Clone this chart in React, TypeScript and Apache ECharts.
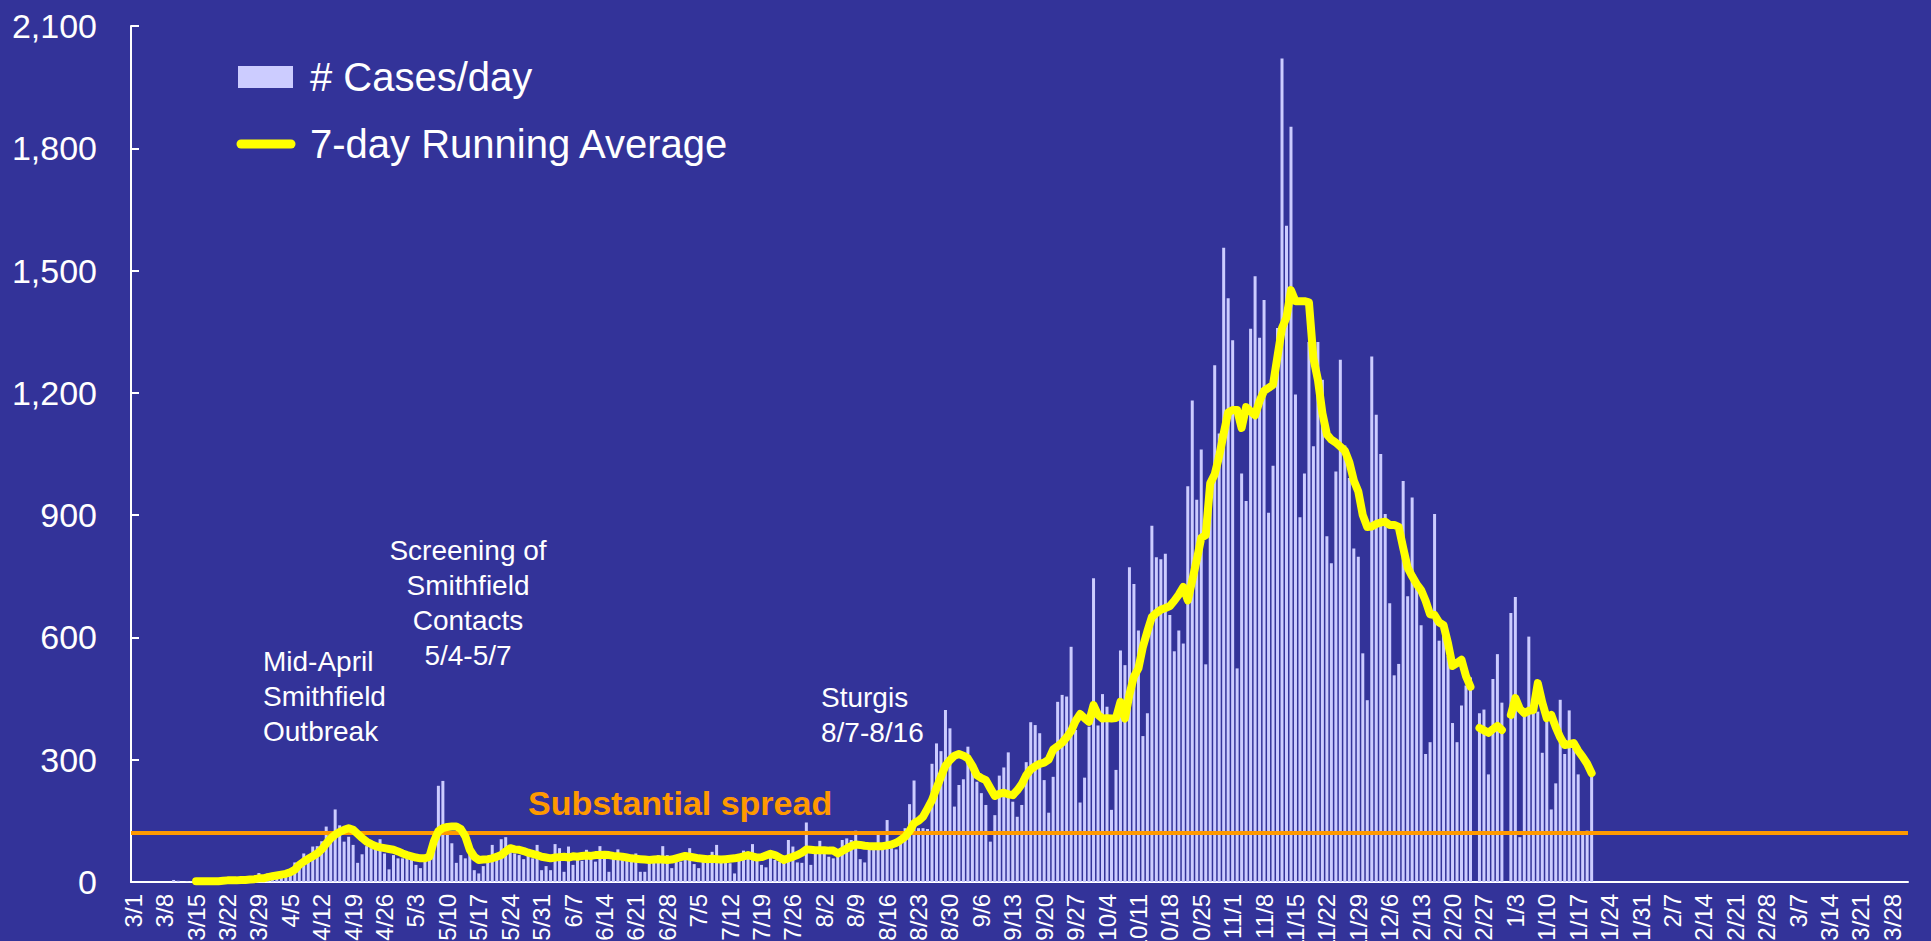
import React, { useEffect, useRef } from "react";
import * as echarts from "echarts";

// ---- Data (daily new cases) ----
// Axis runs 3/1/2020 .. 3/31/2021 (396 days)
const AXIS_START_UTC = Date.UTC(2020, 2, 1);
const AXIS_DAYS = 396;
const CASES_START_INDEX = 9; // 3/10/2020
const AVG_START_INDEX = 14; // 3/15/2020

const casesMar = [5, 3, 0, 1, 1, 2, 1, 1, 3, 3, 3, 7, 7, 2, 5, 5, 5, 12, 12, 22, 7, 21];
const casesApr = [21, 17, 22, 25, 28, 48, 32, 70, 60, 87, 88, 100, 136, 111, 178, 139, 99, 111, 91, 47, 68, 88, 83, 89, 105, 70, 31, 66, 58, 58];
const casesMay = [66, 58, 42, 34, 66, 54, 123, 236, 248, 119, 95, 47, 66, 58, 83, 29, 21, 39, 50, 91, 62, 105, 110, 87, 70, 66, 56, 64, 58, 91, 29];
const casesJun = [39, 29, 93, 83, 25, 87, 42, 70, 52, 79, 66, 50, 88, 66, 25, 70, 80, 54, 62, 58, 70, 25, 25, 58, 54, 66, 88, 66, 34, 54];
const casesJul = [50, 58, 83, 44, 34, 58, 50, 74, 91, 58, 54, 46, 21, 58, 77, 58, 93, 60, 42, 36, 70, 54, 50, 47, 103, 87, 48, 47, 146, 42, 70];
const casesAug = [101, 70, 62, 58, 70, 103, 107, 103, 126, 56, 48, 80, 83, 125, 87, 152, 83, 80, 103, 132, 191, 249, 132, 132, 130, 290, 340, 321, 422, 377, 185];
const casesSep = [238, 252, 332, 279, 246, 218, 189, 99, 164, 261, 281, 318, 197, 160, 189, 294, 392, 385, 365, 250, 170, 258, 442, 459, 455, 577, 373, 195, 256, 381];
const casesOct = [745, 384, 461, 430, 177, 275, 568, 532, 772, 731, 617, 358, 414, 874, 797, 792, 805, 655, 566, 617, 585, 971, 1181, 938, 1061, 534, 987, 1268, 1100, 1556, 1432];
const casesNov = [1329, 524, 1002, 935, 1357, 1486, 1335, 1428, 906, 1021, 1359, 2020, 1610, 1853, 1196, 895, 1002, 1325, 1069, 1325, 1232, 848, 782, 1007, 1281, 1071, 991, 818, 798, 561];
const casesDec = [446, 1289, 1146, 1050, 903, 684, 507, 535, 984, 701, 943, 721, 630, 314, 343, 903, 592, 620, 554, 390, 343, 433, 482, 502, null, 414, 423, 264, 498, 559, 440];
const casesJan = [null, 660, 699, 110, 414, 602, 418, 418, 317, 393, 178, 242, 447, 314, 421, 328, 264, 120, 126, 260];

const avgMar = [2, 2, 2, 2, 2, 2, 3, 4, 4, 4, 5, 5, 6, 7, 9, 9, 12];
const avgApr = [14, 16, 18, 20, 24, 30, 42, 50, 57, 63, 70, 80, 94, 107, 116, 123, 128, 132, 128, 118, 108, 99, 93, 88, 85, 83, 81, 79, 75, 70];
const avgMay = [66, 63, 60, 58, 58, 62, 100, 125, 132, 135, 136, 136, 130, 112, 79, 62, 54, 55, 56, 58, 62, 66, 75, 83, 80, 79, 76, 72, 69, 66, 62];
const avgJun = [60, 58, 60, 61, 62, 60, 63, 62, 64, 65, 64, 66, 66, 67, 66, 64, 63, 62, 60, 58, 57, 56, 55, 54, 55, 56, 55, 54, 55, 58];
const avgJul = [61, 64, 62, 60, 58, 57, 56, 57, 56, 55, 56, 57, 58, 60, 63, 66, 63, 60, 61, 65, 69, 66, 60, 54, 58, 62, 66, 72, 80, 79, 78];
const avgAug = [78, 78, 77, 77, 70, 76, 82, 88, 92, 91, 89, 88, 88, 88, 88, 90, 92, 96, 103, 111, 125, 144, 150, 160, 180, 201, 230, 258, 285, 299, 310];
const avgSep = [314, 310, 303, 285, 262, 255, 250, 230, 211, 216, 219, 215, 213, 225, 240, 262, 276, 284, 290, 293, 300, 325, 333, 342, 355, 370, 395, 412, 402, 393];
const avgOct = [434, 410, 401, 402, 401, 402, 442, 401, 460, 504, 524, 577, 615, 650, 660, 668, 672, 677, 690, 705, 724, 691, 740, 790, 844, 851, 978, 1000, 1045, 1100, 1152];
const avgNov = [1158, 1158, 1114, 1165, 1155, 1145, 1180, 1205, 1212, 1220, 1290, 1359, 1385, 1452, 1425, 1425, 1425, 1422, 1285, 1232, 1150, 1098, 1085, 1078, 1068, 1058, 1030, 985, 958, 900];
const avgDec = [871, 872, 878, 882, 884, 876, 876, 871, 820, 771, 750, 731, 716, 690, 657, 655, 637, 630, 585, 530, 537, 545, 505, 479, null, 378, 372, 366, 375, 383, 373];
const avgJan = [null, 410, 451, 425, 414, 420, 422, 488, 440, 402, 410, 380, 355, 336, 338, 341, 322, 307, 290, 267];

const SUBSTANTIAL_SPREAD = 120;
const Y_MAX = 2100;
const Y_INTERVAL = 300;

const FONT = "'Liberation Sans', Arial, Helvetica, sans-serif";

function buildCategories(): string[] {
  const out: string[] = [];
  for (let i = 0; i < AXIS_DAYS; i++) {
    const d = new Date(AXIS_START_UTC + i * 86400000);
    out.push(`${d.getUTCMonth() + 1}/${d.getUTCDate()}`);
  }
  return out;
}

function pad(startIndex: number, values: (number | null)[]): (number | null)[] {
  const out: (number | null)[] = new Array(AXIS_DAYS).fill(null);
  values.forEach((v, i) => {
    out[startIndex + i] = v;
  });
  return out;
}

export default function App() {
  const ref = useRef<HTMLDivElement>(null);

  useEffect(() => {
    if (!ref.current) return;
    const chart = echarts.init(ref.current, null, { renderer: "svg" });

    const categories = buildCategories();
    const cases = pad(CASES_START_INDEX, [
      ...casesMar, ...casesApr, ...casesMay, ...casesJun, ...casesJul, ...casesAug,
      ...casesSep, ...casesOct, ...casesNov, ...casesDec, ...casesJan,
    ]);
    const avg = pad(AVG_START_INDEX, [
      ...avgMar, ...avgApr, ...avgMay, ...avgJun, ...avgJul, ...avgAug,
      ...avgSep, ...avgOct, ...avgNov, ...avgDec, ...avgJan,
    ]);

    const white = "#FFFFFF";

    chart.setOption({
      animation: false,
      backgroundColor: "#333399",
      textStyle: { fontFamily: FONT },
      grid: {
        left: 131,
        right: 23,
        top: 26,
        bottom: 59,
        containLabel: false,
        outerBoundsMode: "none",
      },
      xAxis: {
        type: "category",
        data: categories,
        boundaryGap: true,
        axisLine: { show: true, lineStyle: { color: white, width: 2 } },
        axisTick: { show: false },
        splitLine: { show: false },
        axisLabel: {
          interval: 6,
          rotate: 90,
          color: white,
          fontSize: 24,
          fontFamily: FONT,
          margin: 12,
        },
      },
      yAxis: {
        type: "value",
        min: 0,
        max: Y_MAX,
        interval: Y_INTERVAL,
        axisLine: { show: true, lineStyle: { color: white, width: 2 } },
        axisTick: { show: true, inside: true, length: 8, lineStyle: { color: white, width: 2 } },
        splitLine: { show: false },
        axisLabel: {
          color: white,
          fontSize: 34,
          fontFamily: FONT,
          margin: 34,
          formatter: (v: number) => v.toLocaleString("en-US"),
        },
      },
      series: [
        {
          name: "# Cases/day",
          type: "bar",
          data: cases,
          barWidth: 3,
          itemStyle: { color: "#CCCCFF" },
          markLine: {
            silent: true,
            symbol: "none",
            label: { show: false },
            lineStyle: { color: "#FF9900", width: 4, type: "solid" },
            data: [{ yAxis: SUBSTANTIAL_SPREAD }],
            z: 3,
          },
          z: 2,
        },
        {
          name: "7-day Running Average",
          type: "line",
          data: avg,
          symbol: "none",
          showSymbol: false,
          connectNulls: false,
          lineStyle: { color: "#FFFF00", width: 8, cap: "round", join: "round" },
          itemStyle: { color: "#FFFF00" },
          z: 5,
        },
      ],
      graphic: [
        {
          type: "rect",
          shape: { x: 238, y: 66, width: 55, height: 22 },
          style: { fill: "#CCCCFF" },
          silent: true,
        },
        {
          type: "text",
          x: 310,
          y: 77,
          style: {
            text: "# Cases/day",
            fill: white,
            fontSize: 40,
            fontFamily: FONT,
            textAlign: "left",
            textVerticalAlign: "middle",
          },
          silent: true,
        },
        {
          type: "line",
          shape: { x1: 241, y1: 144, x2: 291, y2: 144 },
          style: { stroke: "#FFFF00", lineWidth: 9, lineCap: "round" },
          silent: true,
        },
        {
          type: "text",
          x: 310,
          y: 144,
          style: {
            text: "7-day Running Average",
            fill: white,
            fontSize: 40,
            fontFamily: FONT,
            textAlign: "left",
            textVerticalAlign: "middle",
          },
          silent: true,
        },
        {
          type: "text",
          x: 263,
          y: 644,
          style: {
            text: "Mid-April\nSmithfield\nOutbreak",
            fill: white,
            fontSize: 28,
            lineHeight: 35,
            fontFamily: FONT,
            textAlign: "left",
            textVerticalAlign: "top",
          },
          silent: true,
        },
        {
          type: "text",
          x: 468,
          y: 533,
          style: {
            text: "Screening of\nSmithfield\nContacts\n5/4-5/7",
            fill: white,
            fontSize: 28,
            lineHeight: 35,
            fontFamily: FONT,
            textAlign: "center",
            textVerticalAlign: "top",
          },
          silent: true,
        },
        {
          type: "text",
          x: 821,
          y: 680,
          style: {
            text: "Sturgis\n8/7-8/16",
            fill: white,
            fontSize: 28,
            lineHeight: 35,
            fontFamily: FONT,
            textAlign: "left",
            textVerticalAlign: "top",
          },
          silent: true,
        },
        {
          type: "text",
          x: 528,
          y: 803,
          style: {
            text: "Substantial spread",
            fill: "#FF9900",
            fontSize: 34,
            fontWeight: "bold",
            fontFamily: FONT,
            textAlign: "left",
            textVerticalAlign: "middle",
          },
          silent: true,
        },
      ],
    });

    return () => {
      chart.dispose();
    };
  }, []);

  return (
    <div
      ref={ref}
      style={{ position: "fixed", left: 0, top: 0, width: 1931, height: 941 }}
    />
  );
}
